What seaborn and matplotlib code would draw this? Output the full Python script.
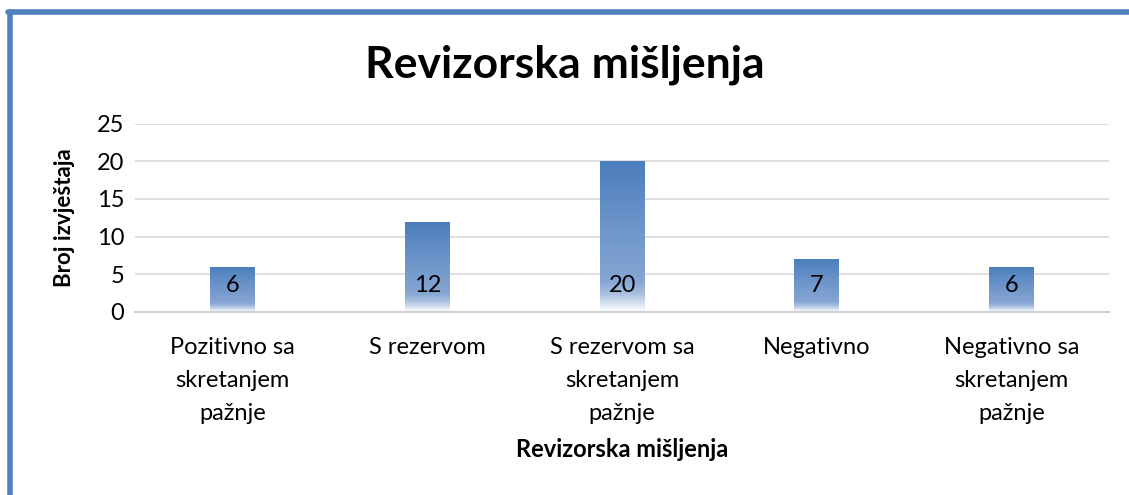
import numpy as np
import pandas as pd
import seaborn as sns
import matplotlib.pyplot as plt
from matplotlib.colors import LinearSegmentedColormap
from matplotlib.lines import Line2D

# Data
categories = ["Pozitivno sa\nskretanjem\npažnje", "S rezervom", "S rezervom sa\nskretanjem\npažnje",
              "Negativno", "Negativno sa\nskretanjem\npažnje"]
counts = [6, 12, 20, 7, 6]
y_ticks = [0, 5, 10, 15, 20, 25]

df = pd.DataFrame({"Kategorija": categories, "Broj": counts})

sns.set_style("white")
plt.rcParams['font.family'] = ['Lato', 'DejaVu Sans']
plt.rcParams['text.color'] = 'black'
plt.rcParams['axes.labelcolor'] = 'black'
plt.rcParams['xtick.color'] = 'black'
plt.rcParams['ytick.color'] = 'black'

fig = plt.figure(figsize=(11.29, 4.95), dpi=100)
ax = fig.add_axes([0.12, 0.37, 0.862, 0.38])

ax = sns.barplot(data=df, x="Kategorija", y="Broj", color="#4f81bd", width=0.23, ax=ax)

# gradient fill: blue on top, white at base
cmap = LinearSegmentedColormap.from_list(
    "grad", [(0.0, "#ffffff"), (0.12, "#a9c0e0"), (0.2, "#86a6d3"), (0.6, "#6b93c9"), (1.0, "#4a7ebc")])
grad = np.linspace(0, 1, 256).reshape(-1, 1)
for bar in ax.patches:
    x0, y0 = bar.get_x(), bar.get_y()
    w, h = bar.get_width(), bar.get_height()
    bar.set_facecolor("none")
    bar.set_edgecolor("none")
    im = ax.imshow(grad, extent=[x0, x0 + w, y0, y0 + h], origin="lower",
                   cmap=cmap, aspect="auto", zorder=2)
    im.set_clip_path(bar)

for i, v in enumerate(counts):
    ax.annotate(str(v), (i, 0), xytext=(0, 19), textcoords="offset points",
                ha="center", va="center", fontsize=17, color="#000000", zorder=3)

ax.set_xlim(-0.5, len(categories) - 0.5)
ax.set_ylim(0, 25)
ax.set_yticks(y_ticks)
ax.grid(axis="y", color="#d9d9d9", linewidth=1.2, zorder=0)
ax.set_axisbelow(True)
for s in ["left", "right", "top"]:
    ax.spines[s].set_visible(False)
ax.spines["bottom"].set_color("#d0d0d0")
ax.spines["bottom"].set_linewidth(1.5)
ax.tick_params(axis="both", length=0, labelsize=17, pad=8)
ax.tick_params(axis="x", pad=18)
for t in ax.get_xticklabels():
    t.set_linespacing(1.7)

ax.set_xlabel("Revizorska mišljenja", fontsize=17, fontweight="bold", labelpad=10)
ax.set_ylabel("Broj izvještaja", fontsize=16, fontweight="bold", labelpad=16)

fig.suptitle("Revizorska mišljenja", fontsize=32, fontweight="bold", y=0.91)

# chart frame (top and left edges visible)
fig.add_artist(Line2D([0.009, 0.009], [0.0, 0.975], color="#4f81bd", linewidth=4, transform=fig.transFigure))
fig.add_artist(Line2D([0.007, 1.0], [0.975, 0.975], color="#4f81bd", linewidth=4, transform=fig.transFigure))

fig.savefig("out.png", dpi=100)
